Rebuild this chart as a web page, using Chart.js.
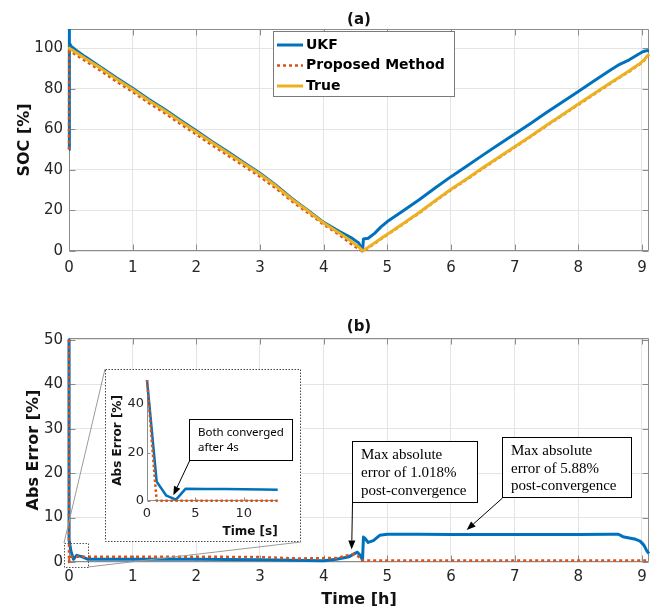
<!DOCTYPE html>
<html><head><meta charset="utf-8">
<script src="https://cdn.jsdelivr.net/npm/chart.js@4.4.1/dist/chart.umd.min.js"></script>
<style>
html,body{margin:0;padding:0;background:#fff;}
#wrap{position:relative;width:660px;height:613px;overflow:hidden;background:#fff;}
canvas{position:absolute;}
</style></head><body>
<div id="wrap">
<canvas id="cA" width="660" height="300" style="left:0;top:0;width:660px;height:300px"></canvas>
<canvas id="cB" width="660" height="313" style="left:0;top:300px;width:660px;height:313px"></canvas>
<canvas id="cI" width="196" height="173" style="left:105px;top:369px;width:196px;height:173px"></canvas>
</div>
<script>
// ---------------- data ----------------
const socTimeH = [0, 0.002, 0.01, 0.03, 0.1, 0.25, 0.5, 0.75, 1, 1.25, 1.5, 1.75, 2, 2.25, 2.5, 2.75, 3, 3.25, 3.5, 3.75, 4, 4.25, 4.45, 4.55, 4.61, 4.625, 4.7, 4.8, 4.9, 5, 5.25, 5.5, 5.75, 6, 6.25, 6.5, 6.75, 7, 7.25, 7.5, 7.75, 8, 8.25, 8.5, 8.65, 8.8, 8.95, 9.02, 9.07, 9.11];
const socTrue = [100, 100, 99.8, 99.4, 98, 95, 90, 84.6, 79.6, 74.2, 69.2, 63.8, 58.6, 53.3, 48.2, 43, 37.8, 32, 25.5, 19.8, 13.8, 8.8, 4.4, 2, 0.2, 0.3, 1.8, 4, 6.2, 8.3, 13.6, 19, 24.8, 30.4, 35.6, 41, 46.2, 51.4, 56.6, 62, 67.2, 72.4, 77.6, 82.8, 85.8, 88.8, 92, 93.8, 95.6, 97];
const socUKF = [50, 109.4, 102.5, 101, 99.2, 95.8, 90.6, 85.2, 80.2, 74.8, 69.8, 64.4, 59.2, 53.9, 48.8, 43.5, 38.3, 32.4, 25.9, 20.1, 14.1, 9.6, 6.2, 4, 0, 5.9, 6.3, 8.7, 11.9, 14.5, 19.85, 25.25, 31.05, 36.65, 41.85, 47.25, 52.45, 57.65, 62.85, 68.25, 73.45, 78.65, 83.85, 89.05, 92, 94.2, 97.1, 98.3, 98.7, 98.8];
const socProposed = [50, 100, 98.8, 98.3, 96.8, 93.8, 88.8, 83.4, 78.4, 73, 68, 62.6, 57.4, 52.1, 47, 41.8, 36.6, 30.9, 24.5, 18.9, 13, 7.9, 3, 1, 0, 0.1, 1.5, 3.7, 5.9, 8, 13.3, 18.7, 24.5, 30.1, 35.3, 40.7, 45.9, 51.1, 56.3, 61.7, 66.9, 72.1, 77.3, 82.5, 85.5, 88.5, 91.7, 93.5, 95.3, 96.7];

const errUKFTimeH = [0, 0.001, 0.03, 0.07, 0.12, 0.2, 0.3, 1, 2, 3, 3.5, 4, 4.2, 4.4, 4.5, 4.53, 4.58, 4.61, 4.625, 4.65, 4.7, 4.78, 4.88, 5, 5.5, 6, 6.5, 7, 7.5, 8, 8.5, 8.63, 8.7, 8.8, 8.9, 8.97, 9.03, 9.08, 9.11];
const errUKF = [50, 5, 2.5, 0.6, 1.5, 1.2, 0.6, 0.6, 0.6, 0.5, 0.4, 0.3, 0.6, 1.2, 2.0, 2.2, 1.4, 0.4, 5.6, 5.3, 4.4, 4.8, 6.0, 6.25, 6.25, 6.2, 6.2, 6.2, 6.2, 6.2, 6.25, 6.25, 5.7, 5.4, 5.1, 4.7, 3.8, 2.4, 1.9];
const errPropTimeH = [0, 0.0003, 0.01, 1, 2, 3, 3.6, 4.2, 4.47, 4.55, 4.61, 4.7, 6, 8, 9.11];
const errProp = [50, 0, 1.2, 1.2, 1.2, 1.1, 0.8, 0.9, 1.8, 1.2, 0.3, 0.35, 0.35, 0.35, 0.35];

const insetUKFTimeS = [0, 1, 2, 3, 4, 6, 8, 10, 12, 13.5];
const insetUKFErr = [50, 8, 2.2, 0.6, 5.1, 5.0, 4.95, 4.85, 4.75, 4.6];
const insetPropTimeS = [0, 0.85, 1, 4, 13.5];
const insetPropErr = [50, 7, 0.1, 0.1, 0.1];

const hourTicks = [0, 1, 2, 3, 4, 5, 6, 7, 8, 9];
const socTicks = [0, 20, 40, 60, 80, 100];
const errTicks = [0, 10, 20, 30, 40, 50];
const insetTimeTicks = [0, 5, 10];
const insetErrTicks = [0, 20, 40];

const seriesNames = ['UKF', 'Proposed Method', 'True'];
const noteMax1018 = ['Max absolute', 'error of 1.018%', 'post-convergence'];
const noteMax588 = ['Max absolute', 'error of 5.88%', 'post-convergence'];
const noteConverged = ['Both converged', 'after 4s'];

// ---------------- styling ----------------
const C_UKF = '#0072BD', C_PROP = '#D95319', C_TRUE = '#EDB120';
const GRID = '#e4e4e4', AXIS = '#8c8c8c', TXT = '#262626', LBL = '#111111';
Chart.defaults.font.family = '"DejaVu Sans", sans-serif';
Chart.defaults.color = TXT;

const zip = (xs, ys) => xs.map((x, i) => ({x: x, y: ys[i]}));
const setTicks = arr => s => { s.ticks = arr.map(v => ({value: v})); };
const CLIP = {left: 3, right: 3, top: 0, bottom: 3};

// axes box + inward tick marks
const axesBox = {
  id: 'axesBox',
  beforeDatasetsDraw(chart, args, o) {
    const {ctx, chartArea: a, scales} = chart;
    const L = Math.round(a.left) + 0.5, R = Math.round(a.right) - 0.5, T = Math.round(a.top) + 0.5, B = Math.round(a.bottom) - 0.5;
    ctx.save();
    ctx.strokeStyle = o.color; ctx.lineWidth = 1;
    ctx.beginPath();
    if (o.box) { ctx.rect(L, T, R - L, B - T); }
    else { ctx.moveTo(L, T); ctx.lineTo(L, B); ctx.lineTo(R, B); }
    const tl = o.tick;
    scales.x.ticks.forEach(t => {
      const x = Math.round(scales.x.getPixelForValue(t.value)) + 0.5;
      ctx.moveTo(x, B); ctx.lineTo(x, B - tl);
      if (o.box) { ctx.moveTo(x, T); ctx.lineTo(x, T + tl); }
    });
    scales.y.ticks.forEach(t => {
      const y = Math.round(scales.y.getPixelForValue(t.value)) + 0.5;
      ctx.moveTo(L, y); ctx.lineTo(L + tl, y);
      if (o.box) { ctx.moveTo(R, y); ctx.lineTo(R - tl, y); }
    });
    ctx.stroke();
    ctx.restore();
  }
};

// boxed legend drawn from the datasets themselves
const boxLegend = {
  id: 'boxLegend',
  afterDatasetsDraw(chart, args, o) {
    if (!o.show) return;
    const {ctx, chartArea: a} = chart;
    const x0 = Math.round(a.left + o.dx), y0 = Math.round(a.top + o.dy);
    ctx.save();
    ctx.fillStyle = '#fff'; ctx.fillRect(x0, y0, o.w, o.h);
    ctx.strokeStyle = o.border; ctx.lineWidth = 1; ctx.strokeRect(x0 + 0.5, y0 + 0.5, o.w - 1, o.h - 1);
    ctx.font = o.font; ctx.textBaseline = 'middle'; ctx.textAlign = 'left';
    chart.data.datasets.forEach((ds, i) => {
      const y = y0 + o.first + i * o.step;
      ctx.save();
      ctx.strokeStyle = ds.borderColor; ctx.lineWidth = ds.borderWidth; ctx.setLineDash(ds.borderDash || []);
      ctx.beginPath(); ctx.moveTo(x0 + o.lx0, y); ctx.lineTo(x0 + o.lx1, y); ctx.stroke();
      ctx.restore();
      ctx.fillStyle = '#000';
      ctx.fillText(ds.label, x0 + o.tx, y);
    });
    ctx.restore();
  }
};

function drawArrow(ctx, x1, y1, x2, y2, len, half) {
  const ang = Math.atan2(y2 - y1, x2 - x1);
  const bx = x2 - len * Math.cos(ang), by = y2 - len * Math.sin(ang);
  ctx.beginPath(); ctx.moveTo(x1, y1); ctx.lineTo(bx, by); ctx.stroke();
  ctx.beginPath();
  ctx.moveTo(x2, y2);
  ctx.lineTo(bx + half * Math.sin(ang), by - half * Math.cos(ang));
  ctx.lineTo(bx - half * Math.sin(ang), by + half * Math.cos(ang));
  ctx.closePath(); ctx.fill();
}

// text boxes with arrows, anchored in data coordinates
const notes = {
  id: 'notes',
  afterDatasetsDraw(chart, args, o) {
    const {ctx, scales: {x, y}} = chart;
    (o.items || []).forEach(n => {
      const bx = Math.round(x.getPixelForValue(n.boxX)), by = Math.round(y.getPixelForValue(n.boxY));
      ctx.save();
      ctx.fillStyle = '#fff'; ctx.fillRect(bx, by, n.w, n.h);
      ctx.strokeStyle = '#000'; ctx.lineWidth = 1; ctx.strokeRect(bx + 0.5, by + 0.5, n.w - 1, n.h - 1);
      ctx.font = n.font; ctx.fillStyle = '#000'; ctx.textBaseline = 'middle'; ctx.textAlign = 'left';
      n.lines.forEach((t, i) => ctx.fillText(t, bx + n.pad, by + n.first + i * n.step));
      const tx = x.getPixelForValue(n.tipX), ty = y.getPixelForValue(n.tipY);
      drawArrow(ctx, bx + 0.5, by + n.h, tx, ty, 9, 3.5);
      ctx.restore();
    });
  }
};

// zoom rectangle + connectors to the inset frame
const zoomLinks = {
  id: 'zoomLinks',
  afterDatasetsDraw(chart, args, o) {
    if (!o.show) return;
    const {ctx, scales: {x, y}} = chart;
    const x0 = x.getPixelForValue(o.x0), x1 = x.getPixelForValue(o.x1);
    const y0 = y.getPixelForValue(o.y1), y1 = y.getPixelForValue(o.y0);
    const ix0 = o.inset.left, iy0 = o.inset.top - o.canvasTop;
    const ix1 = o.inset.left + o.inset.width, iy1 = o.inset.top + o.inset.height - o.canvasTop;
    ctx.save();
    ctx.strokeStyle = '#9a9a9a'; ctx.lineWidth = 1;
    ctx.beginPath(); ctx.moveTo(x0, y0); ctx.lineTo(ix0, iy0); ctx.moveTo(x1, y1); ctx.lineTo(ix1, iy1); ctx.stroke();
    ctx.strokeStyle = '#555'; ctx.setLineDash([1.5, 1.5]);
    ctx.strokeRect(Math.round(x0) + 0.5, Math.round(y0) + 0.5, Math.round(x1 - x0), Math.round(y1 - y0));
    ctx.restore();
  }
};

// dotted frame of the inset
const insetFrame = {
  id: 'insetFrame',
  beforeDraw(chart) {
    const {ctx, width, height} = chart;
    ctx.save(); ctx.fillStyle = '#fff'; ctx.fillRect(0, 0, width, height); ctx.restore();
  },
  afterDraw(chart) {
    const {ctx, width, height} = chart;
    ctx.save(); ctx.strokeStyle = '#444'; ctx.lineWidth = 1; ctx.setLineDash([1.5, 1.5]);
    ctx.strokeRect(0.5, 0.5, width - 1, height - 1); ctx.restore();
  }
};

const INSET = {left: 105, top: 369, width: 196, height: 173};

const gridOpt = {color: GRID, lineWidth: 1, drawTicks: false};
const noGrid = {display: false, drawTicks: false};
const common = {
  responsive: false, animation: false, devicePixelRatio: 1,
  elements: {point: {radius: 0, hoverRadius: 0}, line: {tension: 0, borderCapStyle: 'butt', borderJoinStyle: 'round', fill: false}},
  events: []
};

// ---------------- (a) SOC ----------------
new Chart(document.getElementById('cA'), {
  type: 'line',
  data: {datasets: [
    {label: seriesNames[0], data: zip(socTimeH, socUKF), borderColor: C_UKF, borderWidth: 3, order: 2, clip: CLIP},
    {label: seriesNames[1], data: zip(socTimeH, socProposed), borderColor: C_PROP, borderWidth: 2.5, borderDash: [3, 3], order: 1, clip: CLIP},
    {label: seriesNames[2], data: zip(socTimeH, socTrue), borderColor: C_TRUE, borderWidth: 3, order: 0, clip: CLIP}
  ]},
  options: Object.assign({}, common, {
    layout: {padding: {left: 0, right: 11, top: 11, bottom: 19}},
    plugins: {
      legend: {display: false}, tooltip: {enabled: false},
      title: {display: true, text: '(a)', fullSize: false, font: {size: 15, weight: 'bold'}, color: LBL, padding: {top: 0, bottom: 0}},
      axesBox: {color: AXIS, tick: 6, box: true},
      boxLegend: {show: true, dx: 204, dy: 2, w: 182, h: 66, first: 14, step: 20.5, lx0: 4, lx1: 30, tx: 33, border: '#7a7a7a', font: 'bold 14px "DejaVu Sans"'}
    },
    scales: {
      x: {type: 'linear', min: 0, max: 9.11, afterBuildTicks: setTicks(hourTicks), afterFit: s => { s.height = 30; },
          grid: gridOpt, border: {display: false},
          ticks: {font: {size: 15}, padding: 8, maxRotation: 0, autoSkip: false, color: TXT}},
      y: {type: 'linear', min: 0, max: 109.4, afterBuildTicks: setTicks(socTicks), afterFit: s => { s.width = 69; },
          grid: gridOpt, border: {display: false},
          ticks: {font: {size: 15}, padding: 6, color: TXT},
          title: {display: true, text: 'SOC [%]', font: {size: 16, weight: 'bold'}, color: LBL, padding: {top: 15, bottom: 0}}}
    }
  }),
  plugins: [axesBox, boxLegend]
});

// ---------------- (b) Abs error ----------------
new Chart(document.getElementById('cB'), {
  type: 'line',
  data: {datasets: [
    {label: seriesNames[0], data: zip(errUKFTimeH, errUKF), borderColor: C_UKF, borderWidth: 3, order: 1, clip: CLIP},
    {label: seriesNames[1], data: zip(errPropTimeH, errProp), borderColor: C_PROP, borderWidth: 2.5, borderDash: [3, 3], order: 0, clip: CLIP}
  ]},
  options: Object.assign({}, common, {
    layout: {padding: {left: 0, right: 11, top: 18, bottom: 0}},
    plugins: {
      legend: {display: false}, tooltip: {enabled: false},
      title: {display: true, text: '(b)', fullSize: false, font: {size: 15, weight: 'bold'}, color: LBL, padding: {top: 0, bottom: 2}},
      axesBox: {color: AXIS, tick: 6, box: true},
      zoomLinks: {show: true, x0: -0.0785, x1: 0.298, y0: -1.125, y1: 4.28, inset: INSET, canvasTop: 300},
      notes: {items: [
        {lines: noteMax1018, boxX: 4.445, boxY: 27.2, w: 126, h: 62, pad: 9, first: 14, step: 17.8, font: '15px "Liberation Serif"', tipX: 4.44, tipY: 2.8},
        {lines: noteMax588, boxX: 6.80, boxY: 28.1, w: 130, h: 61, pad: 9, first: 14, step: 17.6, font: '15px "Liberation Serif"', tipX: 6.246, tipY: 7.2}
      ]}
    },
    scales: {
      x: {type: 'linear', min: 0, max: 9.11, afterBuildTicks: setTicks(hourTicks), afterFit: s => { s.height = 51; },
          grid: gridOpt, border: {display: false},
          ticks: {font: {size: 15}, padding: 6, maxRotation: 0, autoSkip: false, color: TXT},
          title: {display: true, text: 'Time [h]', font: {size: 16, weight: 'bold'}, color: LBL, padding: {top: 0, bottom: 3.4}}},
      y: {type: 'linear', min: 0, max: 50.4, afterBuildTicks: setTicks(errTicks), afterFit: s => { s.width = 69; },
          grid: gridOpt, border: {display: false},
          ticks: {font: {size: 15}, padding: 6, color: TXT},
          title: {display: true, text: 'Abs Error [%]', font: {size: 16, weight: 'bold'}, color: LBL, padding: {top: 24.4, bottom: 0}}}
    }
  }),
  plugins: [axesBox, zoomLinks, notes]
});

// ---------------- inset: first seconds ----------------
new Chart(document.getElementById('cI'), {
  type: 'line',
  data: {datasets: [
    {label: seriesNames[0], data: zip(insetUKFTimeS, insetUKFErr), borderColor: C_UKF, borderWidth: 2.5, order: 1, clip: CLIP},
    {label: seriesNames[1], data: zip(insetPropTimeS, insetPropErr), borderColor: C_PROP, borderWidth: 2.5, borderDash: [2.5, 2.5], order: 0, clip: CLIP}
  ]},
  options: Object.assign({}, common, {
    layout: {padding: {left: 0, right: 23.3, top: 4.5, bottom: 0}},
    plugins: {
      legend: {display: false}, tooltip: {enabled: false}, title: {display: false},
      axesBox: {color: AXIS, tick: 3, box: false},
      notes: {items: [
        {lines: noteConverged, boxX: 4.34, boxY: 33.7, w: 104, h: 42, pad: 9, first: 13.3, step: 15.7, font: '11.5px "Noto Sans"', tipX: 2.72, tipY: 2.35}
      ]}
    },
    scales: {
      x: {type: 'linear', min: 0, max: 13.5, afterBuildTicks: setTicks(insetTimeTicks), afterFit: s => { s.height = 41; },
          grid: noGrid, border: {display: false},
          ticks: {font: {size: 13}, padding: 4.5, maxRotation: 0, autoSkip: false, color: TXT},
          title: {display: true, text: 'Time [s]', align: 'end', font: {size: 12, weight: 'bold'}, color: LBL, padding: {top: 0, bottom: 3.1}}},
      y: {type: 'linear', min: 0, max: 50, afterBuildTicks: setTicks(insetErrTicks), afterFit: s => { s.width = 42; },
          grid: noGrid, border: {display: false},
          ticks: {font: {size: 13}, padding: 3, color: TXT},
          title: {display: true, text: 'Abs Error [%]', font: {size: 12, weight: 'bold'}, color: LBL, padding: {top: 5.3, bottom: 0}}}
    }
  }),
  plugins: [insetFrame, axesBox, notes]
});
</script>
</body></html>
